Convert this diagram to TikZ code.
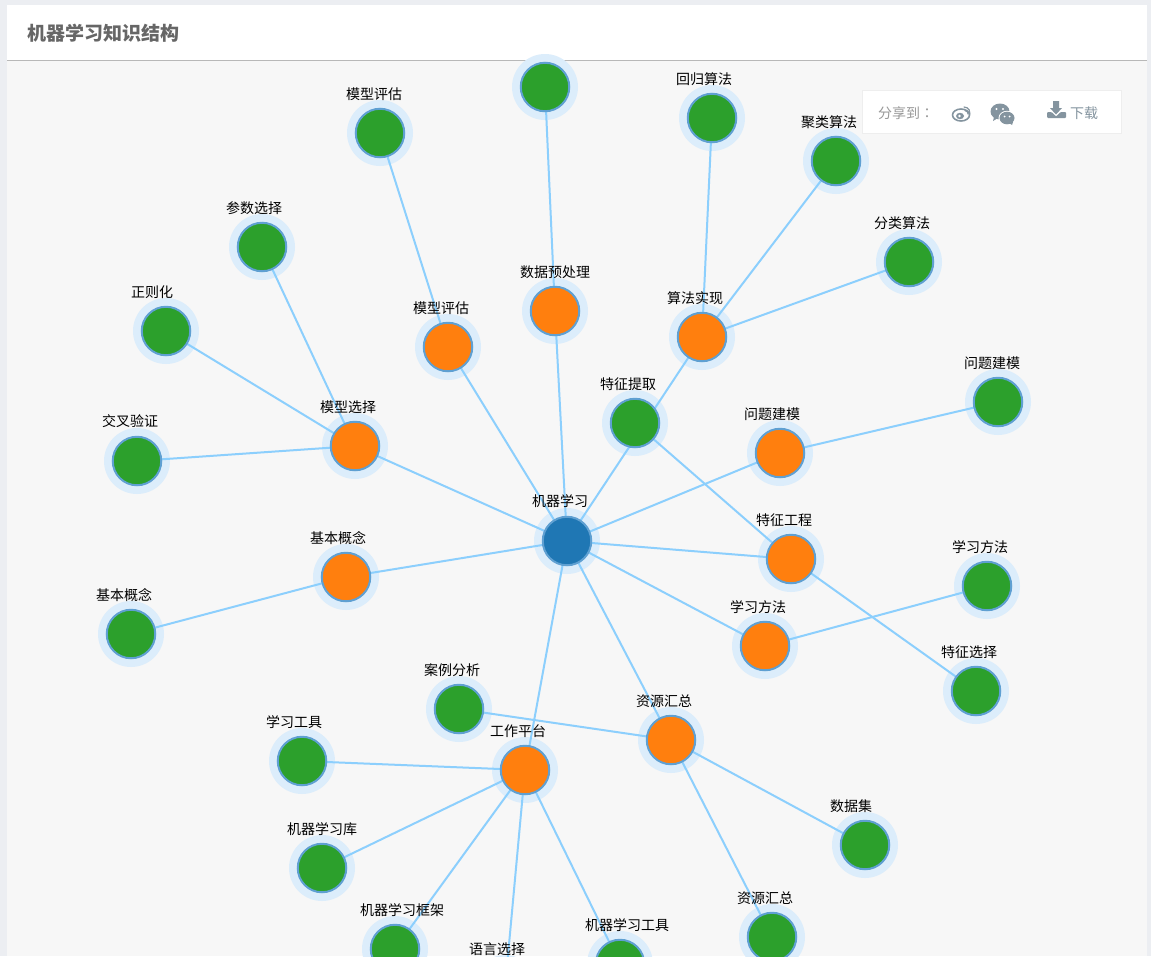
\documentclass[tikz,border=0pt]{standalone}
\usepackage{fontspec}
\setmainfont{Noto Sans CJK SC}
\newfontfamily\tcfont{Noto Sans CJK TC}
\usetikzlibrary{backgrounds}
\definecolor{pagebg}{HTML}{ECEEF2}
\definecolor{panel}{HTML}{F7F7F7}
\definecolor{rule}{HTML}{B8B8B8}
\definecolor{titlec}{HTML}{666666}
\definecolor{edgec}{HTML}{8CCFFD}
\definecolor{haloc}{HTML}{DCEDFB}
\definecolor{rimc}{HTML}{5FA0D2}
\definecolor{gnc}{HTML}{2CA02C}
\definecolor{orc}{HTML}{FF7F0E}
\definecolor{blc}{HTML}{1F77B4}
\definecolor{iconc}{HTML}{84949F}
\definecolor{sharec}{HTML}{999999}
\definecolor{boxl}{HTML}{EEEEEE}
\pgfdeclarelayer{bg}
\pgfsetlayers{bg,main}
\tikzset{
  nodebase/.style={circle,inner sep=0pt,outer sep=0pt,minimum size=48.5pt,draw=rimc,line width=2pt},
  gn/.style={nodebase,fill=gnc},
  orn/.style={nodebase,fill=orc},
  bln/.style={nodebase,fill=blc},
  lbl/.style={inner sep=0pt,font=\fontsize{14}{16}\selectfont,text=black},
  edgeline/.style={draw=edgec,line width=2pt},
}
% name, x, y, style, label, label x, label y
\newcommand{\nd}[7]{%
  \begin{pgfonlayer}{bg}\fill[haloc] (#2,#3) circle (33);\end{pgfonlayer}
  \node[#4] (#1) at (#2,#3) {};
  \node[lbl] (#1t) at (#6,#7) {#5};
}
\newcommand{\ed}[2]{\begin{pgfonlayer}{bg}\path[edgeline] (#1) -- (#2);\end{pgfonlayer}}
\begin{document}
\begin{tikzpicture}[x=1pt,y=-1pt]
\useasboundingbox (0,0) rectangle (1151,956);
\clip (0,0) rectangle (1151,956);
\begin{pgfonlayer}{bg}
\fill[pagebg] (0,0) rectangle (1151,956);
\fill[panel] (7,60) rectangle (1147,956);
\fill[white] (7,5) rectangle (1147,60);
\draw[rule,line width=1pt] (7,60.5) -- (1147,60.5);
\end{pgfonlayer}
\node[inner sep=0pt,anchor=west,text=titlec,font=\fontsize{19}{22}\bfseries\selectfont] (title) at (27,33) {机器学习知识结构};

\nd{root}{567}{541}{bln}{机器学习}{560}{501}
\nd{o1}{346}{577}{orn}{基本概念}{338}{538}
\nd{o2}{355}{446}{orn}{模型选择}{348}{407}
\nd{o3}{448}{347}{orn}{模型评估}{441}{308}
\nd{o4}{555}{311}{orn}{数据预处理}{555}{272}
\nd{o5}{702}{337}{orn}{算法实现}{695}{298}
\nd{o6}{780}{453}{orn}{问题建模}{772}{414}
\nd{o7}{791}{559}{orn}{特征工程}{784}{520}
\nd{o8}{765}{646}{orn}{学习方法}{758}{607}
\nd{o9}{671}{740}{orn}{资源汇总}{664}{701}
\nd{o10}{525}{770}{orn}{工作平台}{518}{731}
\nd{g0}{635}{423}{gn}{特征提取}{628}{384}
\nd{g1}{131}{634}{gn}{基本概念}{124}{595}
\nd{g2}{137}{461}{gn}{交叉验证}{130}{421}
\nd{g3}{166}{331}{gn}{正则化}{152}{292}
\nd{g4}{262}{247}{gn}{参数选择}{254}{208}
\nd{g5}{380}{133}{gn}{模型评估}{374}{94}
\nd{g6}{545}{87}{gn}{}{545}{48}
\nd{g7}{712}{118}{gn}{回归算法}{704}{79}
\nd{g8}{836}{161}{gn}{聚类算法}{829}{122}
\nd{g9}{909}{262}{gn}{分类算法}{902}{223}
\nd{g10}{998}{402}{gn}{问题建模}{992}{363}
\nd{g11}{987}{586}{gn}{学习方法}{980}{547}
\nd{g12}{976}{691}{gn}{特征选择}{969}{652}
\nd{g13}{459}{709}{gn}{案例分析}{452}{670}
\nd{g14}{302}{761}{gn}{学习工具}{294}{722}
\nd{g15}{322}{868}{gn}{机器学习库}{322}{829}
\nd{g16}{395}{949}{gn}{机器学习框架}{402}{910}
\nd{g17}{505}{988}{gn}{语言选择}{497}{949}
\nd{g18}{620}{964}{gn}{机器学习工具}{627}{925}
\nd{g19}{865}{845}{gn}{数据集}{851}{806}
\nd{g20}{772}{937}{gn}{资源汇总}{765}{898}

\ed{root}{o1}\ed{root}{o2}\ed{root}{o3}\ed{root}{o4}\ed{root}{o5}\ed{root}{o6}
\ed{root}{o7}\ed{root}{o8}\ed{root}{o9}\ed{root}{o10}
\ed{g0}{o7}
\ed{o1}{g1}\ed{o2}{g2}\ed{o2}{g3}\ed{o2}{g4}\ed{o3}{g5}\ed{o4}{g6}
\ed{o5}{g7}\ed{o5}{g8}\ed{o5}{g9}\ed{o6}{g10}\ed{o8}{g11}\ed{o7}{g12}
\ed{o9}{g13}\ed{o9}{g19}\ed{o9}{g20}
\ed{o10}{g14}\ed{o10}{g15}\ed{o10}{g16}\ed{o10}{g17}\ed{o10}{g18}

% share box
\draw[boxl,fill=white,line width=1pt] (862.5,90.5) rectangle (1121.5,133.5);
\node[inner sep=0pt,anchor=west,text=sharec,font=\fontsize{14}{16}\selectfont] (share) at (878,113) {分享到{\tcfont ：}};
\node[inner sep=0pt,anchor=west,text=iconc,font=\fontsize{14}{16}\selectfont] (dl) at (1070,113) {下载};
% weibo icon
\draw[iconc,line width=1.6pt] (961,115) ellipse (8.5 and 6);
\fill[iconc] (960,116) ellipse (4 and 3.2);
\fill[white] (959.5,116) circle (1.3);
\draw[iconc,line width=1.2pt,line cap=round] (964,107) arc (-90:10:6);
\draw[iconc,line width=1.2pt,line cap=round] (965,110.5) arc (-90:10:3);
% wechat icon
\fill[iconc] (1000,111.5) ellipse (9.5 and 8);
\fill[iconc] (994,117) -- (993,121) -- (998,118) -- cycle;
\fill[white] (1007,118) ellipse (8.5 and 7.2);
\fill[iconc] (1007,118) ellipse (7.5 and 6.3);
\fill[iconc] (1009,123) -- (1013,122) -- (1012,125) -- cycle;
\fill[white] (996.5,109) circle (1.2) (1003,109) circle (1.2) (1004.5,116.5) circle (1) (1009.5,116.5) circle (1);
% download icon
\fill[iconc] (1053,101) rectangle (1059,108) (1050,108) -- (1062,108) -- (1056,114.5) -- cycle;
\fill[iconc,rounded corners=1pt] (1047,112) -- (1051.5,112) -- (1056,116.5) -- (1060.5,112) -- (1066,112) -- (1066,118) -- (1047,118) -- cycle;
\end{tikzpicture}
\end{document}
